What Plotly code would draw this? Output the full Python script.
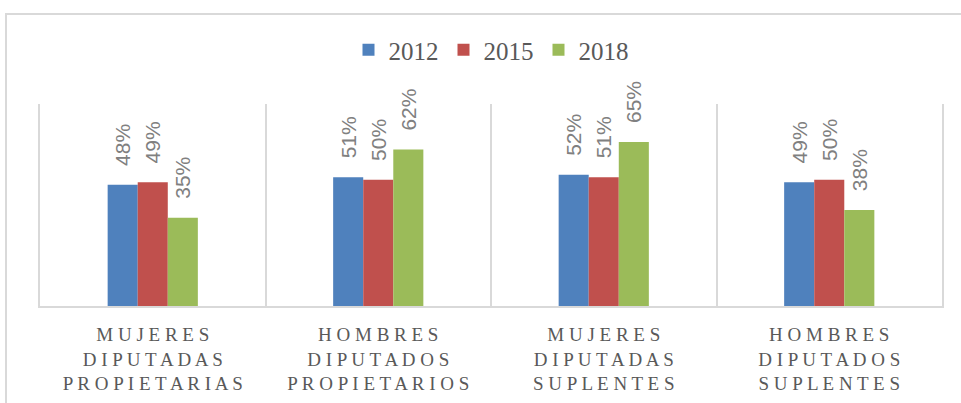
import plotly.graph_objects as go

categories = ["MUJERES DIPUTADAS PROPIETARIAS", "HOMBRES DIPUTADOS PROPIETARIOS",
              "MUJERES DIPUTADAS SUPLENTES", "HOMBRES DIPUTADOS SUPLENTES"]
tick_lines = [["MUJERES", "DIPUTADAS", "PROPIETARIAS"],
              ["HOMBRES", "DIPUTADOS", "PROPIETARIOS"],
              ["MUJERES", "DIPUTADAS", "SUPLENTES"],
              ["HOMBRES", "DIPUTADOS", "SUPLENTES"]]
years = ["2012", "2015", "2018"]
values_2012 = [0.48, 0.51, 0.52, 0.49]
values_2015 = [0.49, 0.50, 0.51, 0.50]
values_2018 = [0.35, 0.62, 0.65, 0.38]
colors = ["#4F81BD", "#C0504D", "#9BBB59"]


def spaced(word):
    return " ".join(word)


ticktext = ["<br>".join(spaced(w) for w in lines) for lines in tick_lines]

fig = go.Figure()
for name, vals, col in zip(years, [values_2012, values_2015, values_2018], colors):
    fig.add_trace(go.Bar(
        name=name, x=categories, y=vals,
        marker=dict(color=col, line=dict(width=0)),
        texttemplate="\u00a0\u00a0\u2009%{y:.0%}",
        textposition="outside", textangle=-90,
        textfont=dict(family="Liberation Sans", size=21, color="#808080"),
        cliponaxis=False, constraintext="none",
    ))

W, H = 961, 403
L, R, T, B = 40, 19, 104, 97
pw, ph = W - L - R, H - T - B

fig.update_layout(
    width=W, height=H,
    margin=dict(l=L, r=R, t=T, b=B, autoexpand=False),
    paper_bgcolor="white", plot_bgcolor="white",
    barmode="group", bargap=0.6, bargroupgap=0,
    showlegend=True,
    legend=dict(orientation="h", x=0.5, xanchor="center",
                y=(H - B - 50) / ph, yanchor="middle",
                font=dict(family="Liberation Serif", size=25, color="#595959"),
                itemclick=False),
    xaxis=dict(type="category", tickmode="array", tickvals=categories, ticktext=ticktext,
               tickson="boundaries", ticks="", showgrid=True, gridcolor="#d9d9d9", gridwidth=2,
               showline=True, linecolor="#d9d9d9", linewidth=2, mirror=False,
               tickfont=dict(family="Liberation Serif", size=19, color="#595959"),
               ticklabelstandoff=10, automargin=False,
               range=[-0.5, 3.5]),
    yaxis=dict(range=[0, 0.8], showticklabels=False, showgrid=False, zeroline=False,
               showline=True, linecolor="#d9d9d9", linewidth=2, mirror=True, ticks="",
               automargin=False),
    shapes=[dict(type="rect", xref="paper", yref="paper",
                 x0=(6 - L) / pw, x1=1.2, y0=-1.0, y1=(H - B - 14) / ph,
                 line=dict(color="#d9d9d9", width=2), layer="below")],
)

fig.write_html("out.html", post_script="document.body.style.margin='0';",
               config={"displayModeBar": False})
